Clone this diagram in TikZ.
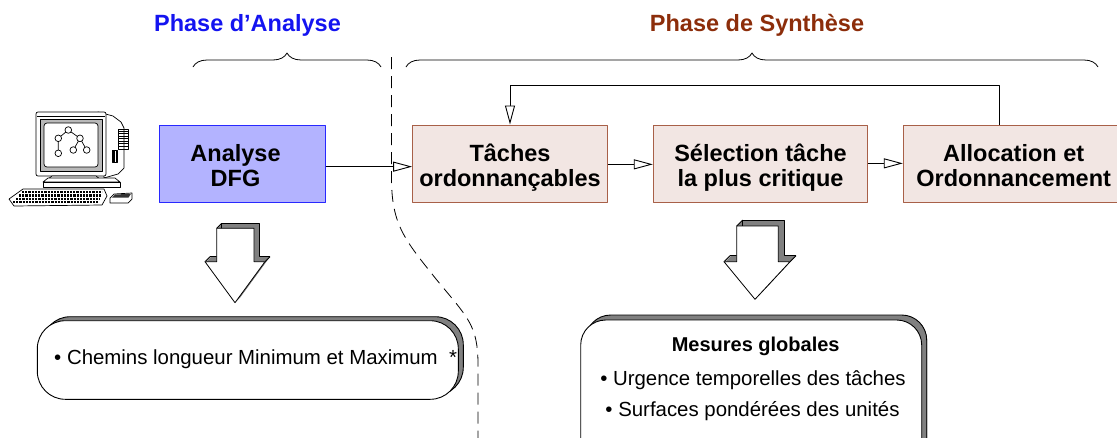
\documentclass[tikz,border=0pt]{standalone}
\usepackage{fontspec}
\setmainfont{Liberation Sans}
\usetikzlibrary{arrows.meta,decorations.pathreplacing,shadows}
\definecolor{anafill}{RGB}{179,179,255}
\definecolor{anaborder}{RGB}{40,40,255}
\definecolor{synfill}{RGB}{242,230,227}
\definecolor{synborder}{RGB}{168,96,72}
\definecolor{titleblue}{RGB}{20,20,240}
\definecolor{titlebrown}{RGB}{140,45,10}
\definecolor{shadowgray}{RGB}{128,128,128}
\begin{document}
\begin{tikzpicture}[x=1pt,y=-1pt,line join=round,
  boxtext/.style={font=\fontsize{23.5}{25}\selectfont\bfseries,align=center,
    text height=45.3pt,text depth=0pt},
  title/.style={font=\fontsize{23.5}{25}\selectfont\bfseries,anchor=base},
  anabox/.style={draw=anaborder,fill=anafill,line width=1pt,inner sep=0pt,
    minimum width=165.7pt,minimum height=77.7pt},
  synbox/.style={draw=synborder,fill=synfill,line width=1pt,inner sep=0pt,
    minimum height=77.7pt,boxtext},
  flow/.style={line width=0.9pt,-{Triangle[length=19pt,width=10pt,fill=white]}},
  phase/.style={decorate,decoration={brace,amplitude=14pt},line width=0.8pt},
  roundbox/.style={draw,fill=white,line width=0.9pt,inner sep=0pt,
    copy shadow={shadow xshift=5pt,shadow yshift=4pt,fill=shadowgray,draw=black,line width=0.9pt}},
  small/.style={font=\fontsize{20.4}{24}\selectfont,anchor=base},
  blockback/.style={fill=shadowgray},
]
\useasboundingbox (0,0) rectangle (1117,437);
\clip (0,0) rectangle (1117,437);

% ---------- phase titles and braces ----------
\node[title,text=titleblue] (tana) at (247.5,31) {Phase d’Analyse};
\node[title,text=titlebrown] (tsyn) at (757,31.5) {Phase de Synthèse};
\draw[phase] (193,67) -- (381,67);
\draw[phase] (406,67) -- (1098,67);

% ---------- separation between the two phases ----------
\draw[dash pattern=on 12pt off 7pt,line width=0.8pt]
  (391.5,57) -- (391.5,178) .. controls (391.5,225) and (405,240) .. (436,279)
  .. controls (468,318) and (478,325) .. (478,365) -- (478,440);

% ---------- workstation ----------
\begin{scope}[line width=0.7pt]
  % rear housing with vents
  \filldraw[fill=white] (98,112) -- (113,116) -- (121,122) -- (124,128) -- (124,168)
    -- (118,174) -- (104,178) -- cycle;
  \draw (118,129) rectangle (128,149);
  \foreach \v in {131,133.5,...,148} \draw[line width=0.5pt] (118,\v) -- (128,\v);
  \draw (112,150) rectangle (117,162);
  \foreach \v in {113,114.5,...,116} \draw[line width=0.5pt] (\v,150) -- (\v,162);
  % front bezel and screen
  \filldraw[fill=white,rounded corners=2pt] (36,112) rectangle (106,176);
  \draw (37,116) -- (105,116);
  \filldraw[fill=gray!55] (40,119) rectangle (102,171);
  \filldraw[fill=white,rounded corners=3pt] (44,123) rectangle (98,167);
  % data flow graph on the screen
  \coordinate (g1) at (68.3,130);
  \coordinate (g2) at (58.3,138.3);
  \coordinate (g3) at (80,138.3);
  \coordinate (g4) at (58.3,153.3);
  \coordinate (g5) at (73.3,150);
  \coordinate (g6) at (86.7,150);
  \draw (g2) -- (g1) -- (g3) -- (g5) (g3) -- (g6) (g2) -- (g4);
  \foreach \g in {g1,g2,g3,g4,g5,g6} \filldraw[fill=white] (\g) circle (3.3pt);
  % stand
  \filldraw[fill=white] (52,176) -- (96,176) -- (100,179) -- (48,179) -- cycle;
  \filldraw[fill=white] (43,182) -- (48,178) -- (115,178) -- (120,182) -- cycle;
  \filldraw[fill=white] (43,182) rectangle (120,187);
  % keyboard
  \filldraw[fill=white] (23,189) -- (104,189) -- (107,196) -- (102,205) -- (14,206)
    -- (9,199) -- cycle;
  \foreach \r in {0,1,2,3}
    \draw[line width=2.2pt,dash pattern=on 2.2pt off 1pt]
      ({22-3*\r},{192+3.4*\r}) -- ({102-\r},{192+3.4*\r});
  % floppy disk
  \filldraw[fill=white] (110,198) -- (114,194) -- (132,193) -- (132,199) -- (128,203)
    -- (110,203) -- cycle;
  \fill[black!80] (112,197.5) -- (115,194.5) -- (131,193.8) -- (128.5,197.5) -- cycle;
\end{scope}

% ---------- process boxes ----------
\node[anabox] (dfg) at (242.15,163.85) {};
\node[boxtext] (dfgtxt) at ([xshift=-6.6pt]dfg.center) {Analyse\\DFG};
\node[synbox,minimum width=194.8pt] (taches) at (510,163.85) {Tâches\\ordonnançables};
\node[synbox,minimum width=214.4pt] (select) at (760.5,163.85) {Sélection tâche\\la plus critique};
\node[synbox,minimum width=220.7pt] (alloc) at (1013.65,163.85) {Allocation et\\Ordonnancement};

\draw[flow] ([yshift=-2.8pt]dfg.east) -- ([yshift=-2.8pt]taches.west);
\draw[flow] ([yshift=-0.5pt]taches.east) -- ([yshift=-0.5pt]select.west);
\draw[flow] ([yshift=0.5pt]select.east) -- ([yshift=0.5pt]alloc.west);
\draw[flow] ([xshift=-14.35pt]alloc.north) -- ++(0,-39) -| (taches.north);

% ---------- hollow block arrows ----------
\foreach \d in {5,4,3,2,1}
  \fill[blockback,shift={(\d,-\d)}] (216.7,228.3) -- (254,228.3) -- (254,261.7) -- (265,261.7)
    -- (235,302.7) -- (205,261.7) -- (216.7,261.7) -- cycle;
\draw[line width=0.8pt,shift={(5,-5)}] (216.7,261.7) -- (205,261.7) (216.7,261.7) -- (216.7,228.3)
  -- (254,228.3) -- (254,261.7) -- (265,261.7);
\draw[line width=0.8pt] (216.7,228.3) -- ++(5,-5) (205,261.7) -- ++(5,-5) (265,261.7) -- ++(5,-5);
\filldraw[fill=white,line width=0.8pt] (216.7,228.3) -- (254,228.3) -- (254,261.7) -- (265,261.7)
  -- (235,302.7) -- (205,261.7) -- (216.7,261.7) -- cycle;

\foreach \d in {6,5,4,3,2,1}
  \fill[blockback,shift={(\d,-\d)}] (736.7,226) -- (778.3,226) -- (778.3,261.7) -- (790,261.7)
    -- (755,299.3) -- (724,261.7) -- (736.7,261.7) -- cycle;
\draw[line width=0.8pt,shift={(6,-6)}] (736.7,261.7) -- (724,261.7) (736.7,261.7) -- (736.7,226)
  -- (778.3,226) -- (778.3,261.7) -- (790,261.7);
\draw[line width=0.8pt] (736.7,226) -- ++(6,-6) (724,261.7) -- ++(6,-6) (790,261.7) -- ++(6,-6);
\filldraw[fill=white,line width=0.8pt] (736.7,226) -- (778.3,226) -- (778.3,261.7) -- (790,261.7)
  -- (755,299.3) -- (724,261.7) -- (736.7,261.7) -- cycle;

% ---------- result boxes ----------
\node[roundbox,rounded corners=28pt,minimum width=421pt,minimum height=78.6pt]
  (paths) at (247.8,360) {};
\node[small,anchor=base west] (pathstxt) at (50.7,364.3)
  {• Chemins longueur Minimum et Maximum\ \ *};

\node[roundbox,rounded corners=25pt,minimum width=341pt,minimum height=150pt,
  copy shadow={shadow xshift=5pt,shadow yshift=5pt,fill=shadowgray,draw=black,line width=0.9pt}]
  (mesures) at (751.2,395) {};
\node[small,font=\fontsize{20}{24}\selectfont\bfseries] (mestitle) at (755.7,351.7) {Mesures globales};
\node[small] (urgence) at (753,385) {• Urgence temporelles des tâches};
\node[small] (surfaces) at (752.5,416.7) {• Surfaces pondérées des unités};
\end{tikzpicture}
\end{document}
